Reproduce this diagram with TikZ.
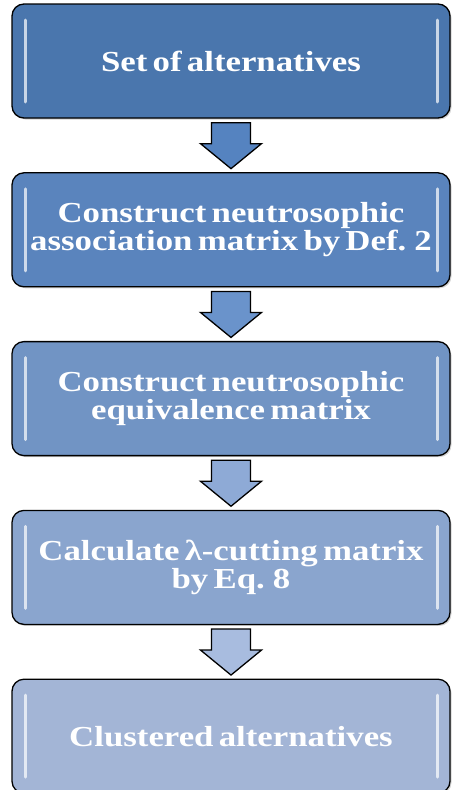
\documentclass[tikz,border=0pt]{standalone}
\usepackage{fontspec}
\setmainfont{Liberation Serif}[FakeStretch=1.2, WordSpace=0.6]
\usepackage{tikz}
\usetikzlibrary{positioning,calc,shadows}

\definecolor{boxA}{HTML}{4A76AD}
\definecolor{boxB}{HTML}{5A84BD}
\definecolor{boxC}{HTML}{7194C4}
\definecolor{boxD}{HTML}{8AA5CE}
\definecolor{boxE}{HTML}{A3B5D6}
\definecolor{arrA}{HTML}{5583C0}
\definecolor{arrB}{HTML}{6A93CB}
\definecolor{arrC}{HTML}{8EAAD6}
\definecolor{arrD}{HTML}{A8BCDF}

\begin{document}
\begin{tikzpicture}[
    x=1pt, y=1pt,
    stage/.style={draw=black, line width=1.3pt, rounded corners=12pt,
        minimum width=438pt, minimum height=114pt, inner sep=0pt,
        align=center, text=white, font=\bfseries\fontsize{29}{28}\selectfont,
        drop shadow={opacity=0.35, shadow xshift=1.5pt, shadow yshift=-1.5pt},
        path picture={
            \draw[white!70!#1, line width=3pt, line cap=round]
                ([xshift=13pt,yshift=-16pt]path picture bounding box.north west) --
                ([xshift=13pt,yshift=16pt]path picture bounding box.south west);
            \draw[white!70!#1, line width=3pt, line cap=round]
                ([xshift=-13pt,yshift=-16pt]path picture bounding box.north east) --
                ([xshift=-13pt,yshift=16pt]path picture bounding box.south east);
        },
        fill=#1},
    blockarrow/.style={draw=black, line width=1.3pt, line join=miter, fill=#1}
]
\useasboundingbox (0,0) rectangle (451,-790);

% stages
\node[stage=boxA] (s1) at (231,-61) {Set of alternatives};
\node[stage=boxB, below=53.5pt of s1] (s2) {Construct neutrosophic\\association matrix by Def. 2};
\node[stage=boxC, below=53.5pt of s2] (s3) {Construct neutrosophic\\equivalence matrix};
\node[stage=boxD, below=53.5pt of s3] (s4) {Calculate λ-cutting matrix\\by Eq. 8};
\node[stage=boxE, below=53.5pt of s4] (s5) {Clustered alternatives};

% arrows between stages
\foreach \a/\b/\c in {s1/s2/arrA, s2/s3/arrB, s3/s4/arrC, s4/s5/arrD} {
    \draw[blockarrow=\c]
        ($(\a.south)+(-19.5,-4)$) -- ($(\a.south)+(19.5,-4)$)
        -- ($(\b.north)+(19.5,28.5)$) -- ($(\b.north)+(30.5,28.5)$)
        -- ($(\b.north)+(0,3.5)$)
        -- ($(\b.north)+(-30.5,28.5)$) -- ($(\b.north)+(-19.5,28.5)$) -- cycle;
}
\end{tikzpicture}
\end{document}
